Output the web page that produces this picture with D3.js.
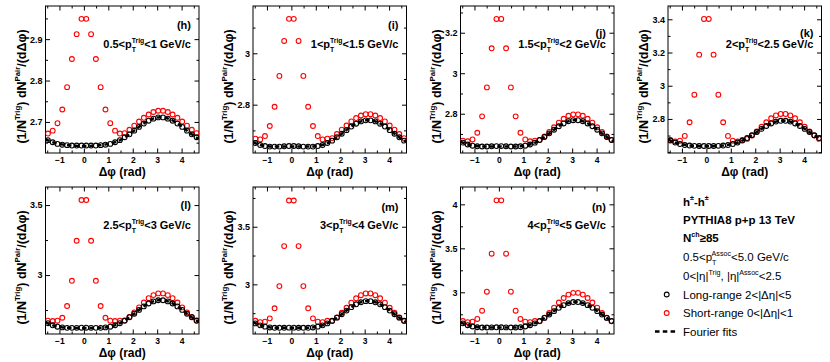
<!DOCTYPE html>
<html>
<head>
<meta charset="utf-8">
<script src="https://cdn.jsdelivr.net/npm/d3@7"></script>
<style>
body { margin: 0; background: #fff; }
svg text { font-family: "Liberation Sans", Arial, Helvetica, sans-serif; }
</style>
</head>
<body>
<svg width="830" height="362"></svg>
<script>
const svg = d3.select('svg');

// delta-phi bin centres (32 bins, -pi/2 .. 3pi/2)
const binCenters = [-1.473,-1.276,-1.080,-0.884,-0.687,-0.491,-0.295,-0.098,0.098,0.295,0.491,0.687,0.884,1.080,1.276,1.473,
	1.669,1.865,2.062,2.258,2.454,2.651,2.847,3.043,3.240,3.436,3.632,3.829,4.025,4.221,4.418,4.614];

// long-range (2<|deta|<5) and short-range (0<|deta|<1) per pT^Trig bin
const longH = [2.656,2.651,2.647,2.645,2.644,2.643,2.643,2.643,2.643,2.643,2.643,2.644,2.645,2.647,2.651,2.656,
	2.663,2.670,2.679,2.688,2.696,2.703,2.708,2.711,2.711,2.708,2.703,2.696,2.688,2.679,2.670,2.663];
const shortH = [2.672,2.679,2.697,2.730,2.784,2.852,2.912,2.949,2.949,2.912,2.852,2.784,2.730,2.697,2.679,2.672,
	2.673,2.681,2.691,2.701,2.710,2.718,2.724,2.727,2.727,2.724,2.718,2.710,2.701,2.691,2.681,2.673];

const longI = [2.651,2.643,2.639,2.637,2.637,2.637,2.638,2.639,2.639,2.638,2.637,2.637,2.637,2.639,2.643,2.651,
	2.660,2.673,2.687,2.701,2.715,2.726,2.735,2.739,2.739,2.735,2.726,2.715,2.701,2.687,2.673,2.660];
const shortI = [2.668,2.665,2.678,2.717,2.792,2.912,3.048,3.134,3.134,3.048,2.912,2.792,2.717,2.678,2.665,2.668,
	2.670,2.686,2.703,2.719,2.735,2.748,2.758,2.763,2.763,2.758,2.748,2.735,2.719,2.703,2.686,2.670];

const longJ = [2.657,2.648,2.642,2.639,2.638,2.638,2.639,2.640,2.640,2.639,2.638,2.638,2.639,2.642,2.648,2.657,
	2.670,2.685,2.703,2.721,2.738,2.752,2.763,2.768,2.768,2.763,2.752,2.738,2.721,2.703,2.685,2.670];
const shortJ = [2.667,2.664,2.673,2.706,2.787,2.930,3.123,3.268,3.268,3.123,2.930,2.787,2.706,2.673,2.664,2.667,
	2.671,2.688,2.710,2.733,2.756,2.775,2.790,2.797,2.797,2.790,2.775,2.756,2.733,2.710,2.688,2.671];

const longK = [2.670,2.658,2.649,2.643,2.640,2.638,2.637,2.637,2.637,2.637,2.638,2.640,2.643,2.649,2.658,2.670,
	2.685,2.702,2.721,2.740,2.758,2.773,2.784,2.789,2.789,2.784,2.773,2.758,2.740,2.721,2.702,2.685];
const shortK = [2.673,2.665,2.669,2.698,2.780,2.946,3.187,3.402,3.402,3.187,2.946,2.780,2.698,2.669,2.665,2.673,
	2.680,2.700,2.725,2.753,2.780,2.804,2.821,2.830,2.830,2.821,2.804,2.780,2.753,2.725,2.700,2.680];

const longL = [2.656,2.641,2.631,2.626,2.623,2.623,2.623,2.624,2.624,2.623,2.623,2.623,2.626,2.631,2.641,2.656,
	2.675,2.699,2.724,2.751,2.776,2.797,2.812,2.820,2.820,2.812,2.797,2.776,2.751,2.724,2.699,2.675];
const shortL = [2.674,2.672,2.674,2.695,2.779,2.959,3.245,3.536,3.536,3.245,2.959,2.779,2.695,2.674,2.672,2.674,
	2.673,2.700,2.733,2.769,2.804,2.835,2.857,2.869,2.869,2.857,2.835,2.804,2.769,2.733,2.700,2.673];

const longM = [2.661,2.644,2.633,2.626,2.623,2.623,2.623,2.624,2.624,2.623,2.623,2.623,2.626,2.633,2.644,2.661,
	2.684,2.711,2.741,2.772,2.802,2.827,2.844,2.854,2.854,2.844,2.827,2.802,2.772,2.741,2.711,2.684];
const shortM = [2.684,2.672,2.676,2.705,2.792,2.985,3.332,3.728,3.728,3.332,2.985,2.792,2.705,2.676,2.672,2.684,
	2.681,2.713,2.753,2.797,2.841,2.879,2.906,2.921,2.921,2.906,2.879,2.841,2.797,2.753,2.713,2.681];

const longN = [2.647,2.626,2.611,2.603,2.600,2.600,2.601,2.602,2.602,2.601,2.600,2.600,2.603,2.611,2.626,2.647,
	2.675,2.709,2.747,2.786,2.823,2.854,2.877,2.889,2.889,2.877,2.854,2.823,2.786,2.747,2.709,2.675];
const shortN = [2.674,2.660,2.666,2.697,2.791,3.007,3.439,4.045,4.045,3.439,3.007,2.791,2.697,2.666,2.660,2.674,
	2.670,2.712,2.766,2.825,2.884,2.935,2.974,2.994,2.994,2.974,2.935,2.884,2.825,2.766,2.712,2.670];

const letters = ['h', 'i', 'j', 'k', 'l', 'm', 'n'];
const ptLow = ['0.5', '1', '1.5', '2', '2.5', '3', '4'];
const ptHigh = ['1', '1.5', '2', '2.5', '3', '4', '5'];
const yDomains = [[2.625, 2.98], [2.612, 3.184], [2.606, 3.332], [2.595, 3.48], [2.579, 3.629], [2.569, 3.845], [2.526, 4.197]];
const yTicks = [[2.7, 2.8, 2.9], [2.8, 3.0], [2.8, 3.0, 3.2], [2.8, 3.0, 3.2, 3.4], [3.0, 3.5], [3.0, 3.5], [3.0, 3.5, 4.0]];
const yMinorStep = [0.05, 0.1, 0.1, 0.1, 0.25, 0.25, 0.25];
const xTicks = [-1, 0, 1, 2, 3, 4];
const longSets = [longH, longI, longJ, longK, longL, longM, longN];
const shortSets = [shortH, shortI, shortJ, shortK, shortL, shortM, shortN];

const colW = 207.5;
const rowTop = [6, 187];
const rowBottom = [153, 334];
const letterDy = [23, 23, 31, 31, 22, 24, 24];
const RED = '#ff0000';
const FONT = '"Liberation Sans", Arial, Helvetica, sans-serif';

// text with ROOT-like sub/superscripts: mode 0 normal, 1 sub, 2 sup, 3 sup stacked on previous sub
const rich = (textSel, parts, size) => {
	let shift = 0, prev = null;
	parts.forEach(([t, mode]) => {
		let target = 0, fs = size, dx = 0;
		if (mode === 1) { target = size * 0.32; fs = size * 0.62; }
		if (mode === 2 || mode === 3) { target = -size * 0.45; fs = size * 0.62; }
		if (mode === 3 && prev) dx = -prev.node().getComputedTextLength();
		const ts = textSel.append('tspan')
			.attr('font-size', fs)
			.attr('dy', target - shift)
			.text(t);
		if (dx) ts.attr('dx', dx);
		shift = target;
		prev = ts;
	});
};

// Fourier series (n<=4) from the uniformly binned points
const fourierFit = (xs, ys, nMax) => {
	const N = ys.length;
	const c = d3.range(nMax + 1).map(n => {
		const s = d3.sum(ys, (y, i) => y * Math.cos(n * xs[i]));
		return n === 0 ? s / N : 2 * s / N;
	});
	return phi => d3.sum(c, (cn, n) => cn * Math.cos(n * phi));
};

const styleAxis = (g, size) => {
	g.attr('font-family', FONT).attr('font-size', size).attr('font-weight', 'bold');
	g.select('.domain').remove();
	g.selectAll('.tick line').attr('stroke', '#000');
};

letters.forEach((letter, p) => {
	const col = p % 4, row = Math.floor(p / 4);
	const left = col * colW + 45.5;
	const right = (col + 1) * colW - 8.5;
	const top = rowTop[row], bottom = rowBottom[row];

	const x = d3.scaleLinear().domain([-Math.PI / 2, 3 * Math.PI / 2]).range([left, right]);
	const y = d3.scaleLinear().domain(yDomains[p]).range([bottom, top]);

	const xMinor = d3.range(-1.5, 4.51, 0.5).filter(v => !xTicks.includes(v));
	const [y0, y1] = yDomains[p];
	const st = yMinorStep[p];
	const yMinor = d3.range(Math.ceil(y0 / st) * st, y1, st)
		.filter(v => !yTicks[p].some(t => Math.abs(t - v) < 1e-6));

	const fmt = d3.format('~g');

	// axes: ticks inside on all four sides
	const gxb = svg.append('g').attr('transform', `translate(0,${bottom})`)
		.call(d3.axisBottom(x).tickValues(xTicks).tickSize(-4.5).tickPadding(3.5).tickFormat(fmt));
	styleAxis(gxb, 8.5);
	const gxbm = svg.append('g').attr('transform', `translate(0,${bottom})`)
		.call(d3.axisBottom(x).tickValues(xMinor).tickSize(-2.5).tickFormat(''));
	styleAxis(gxbm, 8.5);
	const gxt = svg.append('g').attr('transform', `translate(0,${top})`)
		.call(d3.axisTop(x).tickValues(xTicks).tickSize(-4.5).tickFormat(''));
	styleAxis(gxt, 8.5);
	const gxtm = svg.append('g').attr('transform', `translate(0,${top})`)
		.call(d3.axisTop(x).tickValues(xMinor).tickSize(-2.5).tickFormat(''));
	styleAxis(gxtm, 8.5);

	const gyl = svg.append('g').attr('transform', `translate(${left},0)`)
		.call(d3.axisLeft(y).tickValues(yTicks[p]).tickSize(-4.5).tickPadding(3).tickFormat(fmt));
	styleAxis(gyl, 9);
	const gylm = svg.append('g').attr('transform', `translate(${left},0)`)
		.call(d3.axisLeft(y).tickValues(yMinor).tickSize(-2.5).tickFormat(''));
	styleAxis(gylm, 9);
	const gyr = svg.append('g').attr('transform', `translate(${right},0)`)
		.call(d3.axisRight(y).tickValues(yTicks[p]).tickSize(-4.5).tickFormat(''));
	styleAxis(gyr, 9);
	const gyrm = svg.append('g').attr('transform', `translate(${right},0)`)
		.call(d3.axisRight(y).tickValues(yMinor).tickSize(-2.5).tickFormat(''));
	styleAxis(gyrm, 9);

	svg.append('rect')
		.attr('x', left).attr('y', top)
		.attr('width', right - left).attr('height', bottom - top)
		.attr('fill', 'none').attr('stroke', '#000').attr('stroke-width', 1);

	// axis titles
	const ty = svg.append('text')
		.attr('transform', `translate(${left - 20},${(top + bottom) / 2 + 7}) rotate(-90)`)
		.attr('text-anchor', 'middle')
		.attr('font-weight', 'bold');
	rich(ty, [['(1/N', 0], ['Trig', 2], [') dN', 0], ['Pair', 2], ['/(dΔφ)', 0]], 12.5);

	svg.append('text')
		.attr('x', (left + right) / 2).attr('y', bottom + 22.5)
		.attr('text-anchor', 'middle')
		.attr('font-weight', 'bold').attr('font-size', 12)
		.text('Δφ (rad)');

	const clipId = `clip-${letter}`;
	svg.append('clipPath').attr('id', clipId)
		.append('rect').attr('x', left).attr('y', top)
		.attr('width', right - left).attr('height', bottom - top);

	const plot = svg.append('g').attr('clip-path', `url(#${clipId})`);

	plot.selectAll('circle.short').data(shortSets[p])
		.enter().append('circle')
			.attr('class', 'short')
			.attr('cx', (d, i) => x(binCenters[i]))
			.attr('cy', d => y(d))
			.attr('r', 2.4)
			.attr('fill', 'none')
			.attr('stroke', RED)
			.attr('stroke-width', 1.1);

	plot.selectAll('circle.long').data(longSets[p])
		.enter().append('circle')
			.attr('class', 'long')
			.attr('cx', (d, i) => x(binCenters[i]))
			.attr('cy', d => y(d))
			.attr('r', 2.4)
			.attr('fill', 'none')
			.attr('stroke', '#000')
			.attr('stroke-width', 1.1);

	const fit = fourierFit(binCenters, longSets[p], 4);
	const phis = d3.range(-Math.PI / 2, 3 * Math.PI / 2 + 0.001, 0.02);
	plot.append('path')
		.datum(phis)
		.attr('d', d3.line().x(d => x(d)).y(d => y(fit(d))))
		.attr('fill', 'none')
		.attr('stroke', '#000')
		.attr('stroke-width', 2.5)
		.attr('stroke-dasharray', '4.5,3');

	// panel labels
	svg.append('text')
		.attr('x', right - 8).attr('y', top + letterDy[p])
		.attr('text-anchor', 'end')
		.attr('font-weight', 'bold').attr('font-size', 11)
		.text(`(${letter})`);

	const tl = svg.append('text')
		.attr('x', right - 8).attr('y', top + 42)
		.attr('text-anchor', 'end')
		.attr('font-weight', 'bold');
	rich(tl, [[`${ptLow[p]}<p`, 0], ['T', 1], ['Trig', 3], [`<${ptHigh[p]} GeV/c`, 0]], 11);
});

// legend / info block
const lx = 683;
const infoLines = [
	{ y: 205.5, bold: true, parts: [['h', 0], ['±', 2], ['-h', 0], ['±', 2]] },
	{ y: 224, bold: true, parts: [['PYTHIA8 p+p 13 TeV', 0]] },
	{ y: 242, bold: true, parts: [['N', 0], ['ch', 2], ['≥85', 0]] },
	{ y: 261, bold: false, parts: [['0.5<p', 0], ['T', 1], ['Assoc', 3], ['<5.0 GeV/c', 0]] },
	{ y: 280, bold: false, parts: [['0<|η|', 0], ['Trig', 2], [', |η|', 0], ['Assoc', 2], ['<2.5', 0]] },
	{ y: 298.5, bold: false, parts: [['Long-range 2<|Δη|<5', 0]] },
	{ y: 317, bold: false, parts: [['Short-range 0<|Δη|<1', 0]] },
	{ y: 335.5, bold: false, parts: [['Fourier fits', 0]] }
];
infoLines.forEach(l => {
	const t = svg.append('text')
		.attr('x', lx).attr('y', l.y)
		.attr('font-weight', l.bold ? 'bold' : 'normal');
	rich(t, l.parts, 11.5);
});

svg.append('circle')
	.attr('cx', 666.7).attr('cy', 294.5).attr('r', 2.4)
	.attr('fill', 'none').attr('stroke', '#000').attr('stroke-width', 1.1);
svg.append('circle')
	.attr('cx', 666.7).attr('cy', 313).attr('r', 2.4)
	.attr('fill', 'none').attr('stroke', RED).attr('stroke-width', 1.1);
svg.append('line')
	.attr('x1', 655).attr('x2', 677).attr('y1', 331.5).attr('y2', 331.5)
	.attr('stroke', '#000').attr('stroke-width', 2.7)
	.attr('stroke-dasharray', '4.5,3.3');
</script>
</body>
</html>
